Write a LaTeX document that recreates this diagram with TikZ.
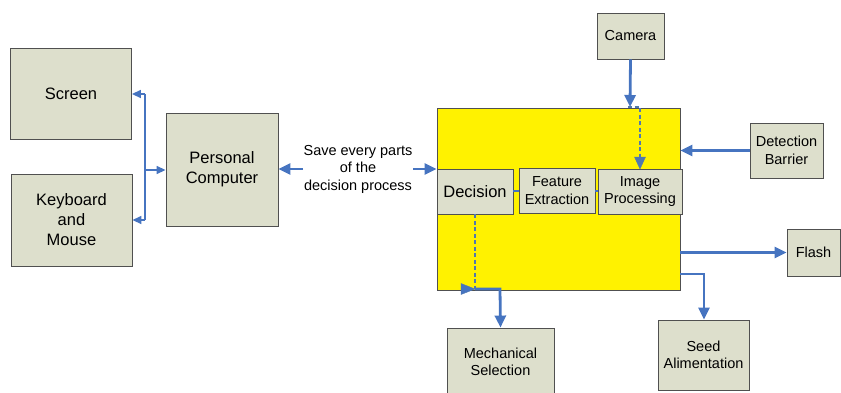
\documentclass[tikz,border=0pt]{standalone}
\usepackage{fontspec}
\setmainfont{Liberation Sans}
\usetikzlibrary{arrows.meta}
\definecolor{boxfill}{RGB}{221,223,204}
\definecolor{boxline}{RGB}{80,80,80}
\definecolor{arr}{RGB}{70,116,192}
\definecolor{dsh}{RGB}{80,120,175}
\tikzset{
  bx/.style={draw=boxline, line width=0.9pt, fill=boxfill, align=center, inner sep=0pt},
  big/.style={font=\fontsize{16.5}{20}\selectfont},
  sml/.style={font=\fontsize{14.5}{17.5}\selectfont},
  conn/.style={draw=arr, line width=2.8pt, -{Triangle[length=12pt,width=11pt]}},
  thin/.style={draw=arr, line width=1.6pt},
  thinarr/.style={thin, -{Triangle[length=9pt,width=8pt]}},
  dotl/.style={draw=dsh, line width=2.6pt, dash pattern=on 4pt off 2.5pt},
}
\begin{document}
\begin{tikzpicture}[x=1pt,y=-1pt]
\useasboundingbox (0,0) rectangle (841,392);
\clip (0,0) rectangle (841,392);
% left side
\node[bx,big,minimum width=121pt,minimum height=91pt] (screen) at (71,93.5) {Screen};
\node[bx,big,minimum width=121pt,minimum height=92pt] (kbd) at (71.5,220) {Keyboard\\and\\Mouse};
\node[bx,big,minimum width=112pt,minimum height=113pt] (pc) at (222,169.5) {Personal\\Computer};
% central yellow block
\node[draw=boxline, line width=0.9pt, fill=yellow, minimum width=243pt, minimum height=182pt, inner sep=0pt] (core) at (558.5,199) {};
\node[bx,big,minimum width=76pt,minimum height=45pt] (dec) at (475,191.5) {Decision};
\node[bx,sml,minimum width=76pt,minimum height=45pt] (feat) at (557,190.5) {Feature\\Extraction};
\node[bx,sml,minimum width=84pt,minimum height=45pt] (img) at (640,191.5) {Image\\Processing};
% peripherals
\node[bx,sml,minimum width=67pt,minimum height=46pt] (cam) at (630.5,36) {Camera};
\node[bx,sml,minimum width=73pt,minimum height=55pt] (det) at (786.5,150.5) {Detection\\Barrier};
\node[bx,sml,minimum width=53pt,minimum height=47pt] (flash) at (813.5,252.5) {Flash};
\node[bx,sml,minimum width=91pt,minimum height=70pt] (seed) at (703.5,355) {Seed\\Alimentation};
\node[bx,sml,minimum width=107pt,minimum height=68pt] (mech) at (500.5,362) {Mechanical\\Selection};
% label
\node[sml, align=center, inner sep=0pt] (save) at (358,169) {Save every parts\\of the\\decision process};
% coordinates
\coordinate (bus) at (145,170);
\coordinate (savel) at (303,169);
\coordinate (saver) at (413,169);
\coordinate (camin) at (630,107);
\coordinate (decbot) at (475,289);
% screen / keyboard connectors
\draw[thin] (145,94) -- (145,220);
\draw[thinarr] (145,94) -- (screen.east |- 0,94);
\draw[thinarr] (145,220) -- (kbd.east |- 0,220);
\draw[thinarr] (bus) -- (pc.west |- bus);
% save arrows
\draw[conn] (savel) -- (pc.east |- savel);
\draw[conn] (saver) -- (core.west |- saver);
% camera
\draw[conn] (cam.south) -- (camin);
\draw[dotl] (628,107) -- (640,107) -- (640,157);
\draw[dsh, fill=dsh] (640,169) -- (634.5,157) -- (645.5,157) -- cycle;
% detection barrier
\draw[conn] (det.west) -- (core.east |- det.west);
% flash
\draw[conn] (core.east |- flash.west) -- (flash.west);
% seed
\draw[conn] (core.east |- 0,274) -- (704,274) -- (seed.north -| 704,0);
% internal links
\draw[thin] (dec.east |- 0,191) -- (feat.west |- 0,191);
\draw[thin] (feat.east |- 0,191) -- (img.west |- 0,191);
% decision to mechanical
\draw[dotl] (dec.south -| decbot) -- (decbot);
\draw[dsh, fill=arr] (475,289) -- (461,283.5) -- (461,294.5) -- cycle;
\draw[conn] (decbot) -- (500,289) -- (mech.north);
\end{tikzpicture}
\end{document}
